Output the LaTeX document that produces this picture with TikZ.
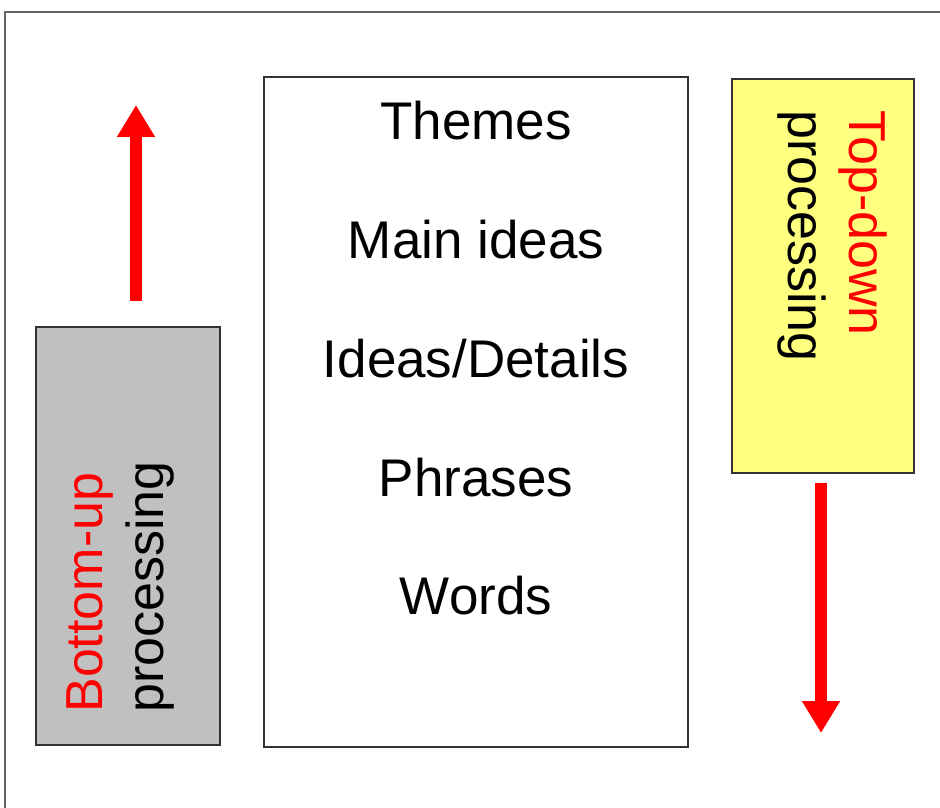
\documentclass[tikz,border=0pt]{standalone}
\usepackage{fontspec}
\setmainfont{Liberation Sans}
\usetikzlibrary{arrows.meta}
\definecolor{boxgray}{RGB}{192,192,192}
\definecolor{boxyellow}{RGB}{255,255,128}
\definecolor{edgegray}{RGB}{51,51,51}
\definecolor{pured}{RGB}{255,0,0}
\tikzset{
  panel/.style={draw=edgegray, line width=1pt, inner sep=0pt, outer sep=0pt},
  level/.style={anchor=base, inner sep=0pt, font=\fontsize{26.5}{30}\selectfont},
  vlabel/.style={inner sep=0pt, anchor=base west, font=\fontsize{26}{30}\selectfont},
  flow/.style={draw=pured, line width=6pt, -{Triangle[width=18pt,length=16pt]}}
}
\begin{document}
\begin{tikzpicture}[x=0.5pt, y=-0.5pt]
\useasboundingbox (0,0) rectangle (940,807);
% outer frame (clipped by the page)
\draw[draw=gray!80!black, line width=1pt] (5,830) -- (5,12) -- (960,12);
% boxes
\node[panel, fill=boxgray, minimum width=92pt, minimum height=209pt] (bu) at (128,536) {};
\node[panel, fill=white, minimum width=212pt, minimum height=335pt] (mid) at (476,412) {};
\node[panel, fill=boxyellow, minimum width=91pt, minimum height=197pt] (td) at (823,276) {};
% levels
\node[level] (themes) at (476,140) {Themes};
\node[level] (mainideas) at (476,259) {Main ideas};
\node[level] (ideas) at (476,377) {Ideas/Details};
\node[level] (phrases) at (476,496) {Phrases};
\node[level] (words) at (476,614) {Words};
% rotated labels
\node[vlabel, rotate=90, text=pured] (bulab) at (102,713) {Bottom-up};
\node[vlabel, rotate=90] (buproc) at (163,713) {processing};
\node[vlabel, rotate=-90, text=pured] (tdlab) at (849,110) {Top-down};
\node[vlabel, rotate=-90] (tdproc) at (788,110) {processing};
% arrows
\coordinate (upTail) at (136,301);
\coordinate (upTip) at (136,105);
\coordinate (dnTail) at (821,483);
\coordinate (dnTip) at (821,733);
\draw[flow] (upTail) -- (upTip);
\draw[flow] (dnTail) -- (dnTip);
\end{tikzpicture}
\end{document}
